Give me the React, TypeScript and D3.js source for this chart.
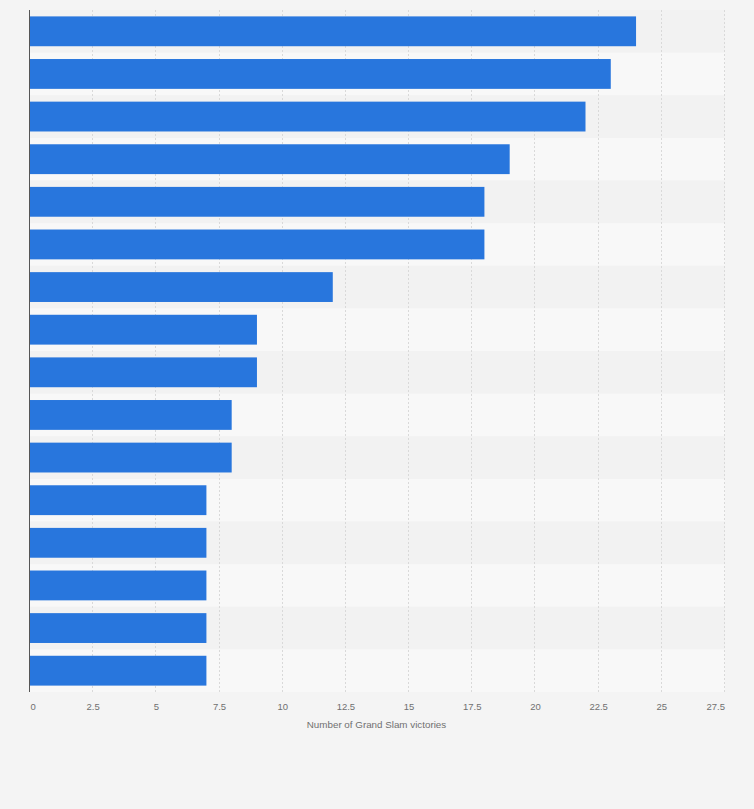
import React from "react";
import * as d3 from "d3";

const categories = [
  "Player 1", "Player 2", "Player 3", "Player 4", "Player 5", "Player 6", "Player 7", "Player 8",
  "Player 9", "Player 10", "Player 11", "Player 12", "Player 13", "Player 14", "Player 15", "Player 16",
];
const values = [24, 23, 22, 19, 18, 18, 12, 9, 9, 8, 8, 7, 7, 7, 7, 7];
const tickValues = [0, 2.5, 5, 7.5, 10, 12.5, 15, 17.5, 20, 22.5, 25, 27.5];
const axisTitle = "Number of Grand Slam victories";

export default function App() {
  const W = 754;
  const H = 809;
  const left = 30;
  const right = 725;
  const top = 10;
  const bottom = 692;

  const x = d3.scaleLinear().domain([0, 27.5]).range([left, right]);
  const y = d3.scaleBand<string>().domain(categories).range([top, bottom]).paddingInner(0.3).paddingOuter(0.15);
  const band = d3.scaleBand<string>().domain(categories).range([top, bottom]).padding(0);
  const fmt = (v: number) => String(v);

  return (
    <svg width={W} height={H} style={{ position: "absolute", left: 0, top: 0, background: "#f4f4f4" }}>
      <rect x={0} y={0} width={W} height={H} fill="#f4f4f4" />
      {categories.map((c, i) => (
        <rect
          key={"bg" + c}
          x={left}
          y={band(c)!}
          width={right - left}
          height={band.bandwidth()}
          fill={i % 2 === 0 ? "#f2f2f2" : "#f8f8f8"}
        />
      ))}
      {tickValues.slice(1).map((t) => (
        <line
          key={"g" + t}
          x1={Math.round(x(t)) - 0.5}
          x2={Math.round(x(t)) - 0.5}
          y1={top}
          y2={bottom}
          stroke="#d9d9d9"
          strokeWidth={1}
          strokeDasharray="2,2"
        />
      ))}
      {categories.map((c, i) => (
        <rect
          key={"b" + c}
          x={x(0)}
          y={y(c)!}
          width={x(values[i]) - x(0) - 0.5}
          height={y.bandwidth()}
          fill="#2876dd"
        />
      ))}
      <line x1={left - 0.5} x2={left - 0.5} y1={top} y2={bottom} stroke="#555555" strokeWidth={1} />
      {tickValues.map((t, i) => (
        <text
          key={"t" + t}
          x={i === 0 ? left + 0.5 : i === tickValues.length - 1 ? right : x(t)}
          y={710}
          textAnchor={i === 0 ? "start" : i === tickValues.length - 1 ? "end" : "middle"}
          fontFamily="Arial, 'Liberation Sans', sans-serif"
          fontSize={9.5}
          fill="#707070"
        >
          {fmt(t)}
        </text>
      ))}
      <text
        x={(left + right) / 2 - 1}
        y={728}
        textAnchor="middle"
        fontFamily="Arial, 'Liberation Sans', sans-serif"
        fontSize={9.8}
        fill="#707070"
      >
        {axisTitle}
      </text>
    </svg>
  );
}
